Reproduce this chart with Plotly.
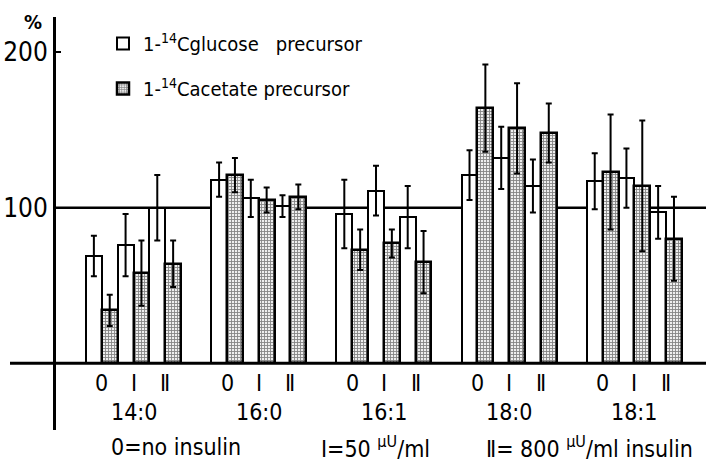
import plotly.graph_objects as go

# ---- data ----
groups = ["14:0", "16:0", "16:1", "18:0", "18:1"]
conditions = ["0", "I", "Ⅱ"]
glucose = [69, 76, 100, 118, 106, 101, 96, 111, 94, 121, 132, 114, 117, 119, 97]
glucose_err = [13, 20, 21, 11, 12, 7, 22, 16, 20, 16, 20, 17, 18, 19, 17]
acetate = [34, 58, 64, 121, 105, 107, 73, 77, 65, 164, 151, 148, 123, 114, 80]
acetate_err = [10, 21, 15, 11, 8, 8, 13, 9, 20, 28, 29, 19, 37, 42, 27]
ytick_vals = [100, 200]
ytick_text = ["100", "200"]

FONT = "DejaVu Sans Condensed, DejaVu Sans, sans-serif"
G = 7.9  # group spacing in bar widths

xg, xa = [], []
for gi in range(len(groups)):
    for ci in range(len(conditions)):
        xg.append(gi * G + ci * 2)
        xa.append(gi * G + ci * 2 + 1)

fig = go.Figure()
fig.add_trace(go.Bar(
    x=xg, y=glucose, width=1, name="1-<sup>14</sup>Cglucose\u00a0\u00a0\u00a0precursor",
    legendgroup="g",
    marker=dict(color="white", line=dict(color="black", width=2)),
    error_y=dict(type="data", array=glucose_err, color="black", thickness=2, width=3),
))
fig.add_trace(go.Bar(
    x=xa, y=acetate, width=1, name="1-<sup>14</sup>Cacetate\u00a0precursor",
    legendgroup="a",
    marker=dict(color="#8a8a8a", line=dict(color="black", width=2.5),
                pattern=dict(shape="+", fgcolor="#1a1a1a", bgcolor="#eeeeee", size=3, solidity=0.5)),
    error_y=dict(type="data", array=acetate_err, color="black", thickness=2, width=3),
))

ann = []
for gi, g in enumerate(groups):
    for ci, c in enumerate(conditions):
        ann.append(dict(x=gi * G + ci * 2 + 0.5, y=-12.7, xref="x", yref="y", text=c,
                        xanchor="center", yanchor="middle",
                        showarrow=False, font=dict(size=23, family=FONT, color="black")))
    ann.append(dict(x=gi * G + 2.5, y=-31.3, xref="x", yref="y", text=g,
                    xanchor="center", yanchor="middle",
                    showarrow=False, font=dict(size=23, family=FONT, color="black")))

W, L = 650, 56
def px(p):
    return (p - L) / W

foot = [("0=no insulin", 176), ("I=50 <sup>μU</sup>/ml", 375), ("Ⅱ= 800 <sup>μU</sup>/ml insulin", 589)]
for t, cx in foot:
    ann.append(dict(x=px(cx), y=-0.04, xref="paper", yref="paper", text=t, showarrow=False,
                    xanchor="center", yanchor="middle",
                    font=dict(size=23, family=FONT, color="black")))
ann.append(dict(x=px(33), y=219.5, xref="paper", yref="y", text="<b>%</b>", showarrow=False,
                xanchor="center", yanchor="middle",
                font=dict(size=20, family=FONT, color="black")))

fig.update_layout(
    width=706, height=463,
    margin=dict(l=56, r=0, t=17, b=33),
    plot_bgcolor="white", paper_bgcolor="white",
    barmode="overlay", bargap=0,
    showlegend=True,
    legend=dict(x=px(103), y=0.983, xanchor="left", yanchor="top", tracegroupgap=16,
                font=dict(size=20, family=FONT, color="black"), bgcolor="rgba(0,0,0,0)"),
    xaxis=dict(range=[-2.39, 38.62], showticklabels=False, showgrid=False, zeroline=False,
               showline=False, ticks="", automargin=False),
    yaxis=dict(range=[-42.9, 222.6], tickvals=ytick_vals, ticktext=ytick_text, ticks="inside",
               ticklen=5, tickwidth=2, tickcolor="black", showgrid=False, zeroline=False,
               showline=True, linecolor="black", linewidth=3, automargin=False,
               tickfont=dict(size=26, family=FONT, color="black")),
    annotations=ann,
    shapes=[
        dict(type="line", xref="paper", yref="y", x0=px(10), x1=1, y0=0, y1=0,
             line=dict(color="black", width=3), layer="above"),
        dict(type="line", xref="paper", yref="y", x0=0, x1=1, y0=100, y1=100,
             line=dict(color="black", width=2.5), layer="below"),
    ],
)
fig.write_html("out.html", config={"displayModeBar": False},
               post_script="document.body.style.margin='0';document.body.style.overflow='hidden';")
